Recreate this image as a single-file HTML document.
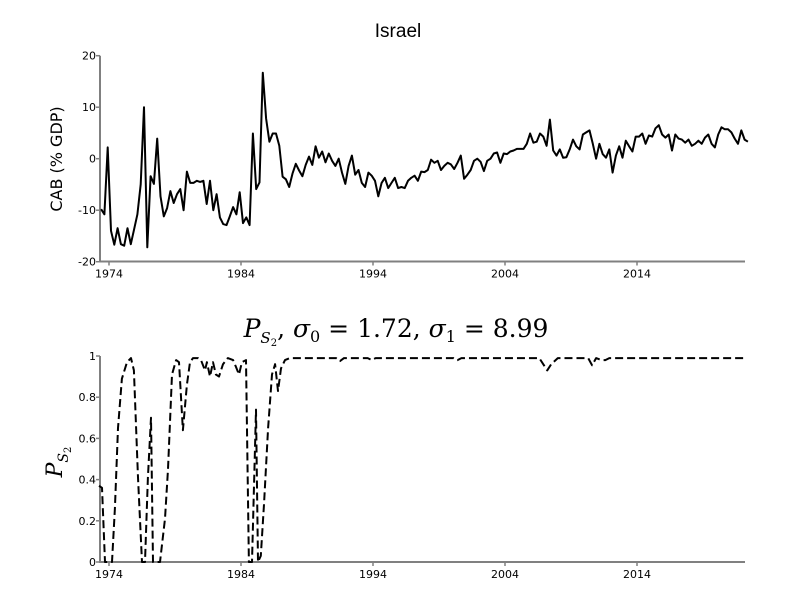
<!DOCTYPE html>
<html><head><meta charset="utf-8">
<style>
html,body{margin:0;padding:0;background:#fff;}
svg{display:block;font-family:"DejaVu Sans","Liberation Sans",sans-serif;}
</style></head>
<body>
<svg id="chart" width="800" height="600" viewBox="0 0 800 600" xmlns="http://www.w3.org/2000/svg">
<rect width="800" height="600" fill="#fff"/>
<text x="398" y="37" font-size="19" text-anchor="middle" font-family="'Liberation Sans',sans-serif">Israel</text>
<text transform="translate(62,159) rotate(-90)" font-size="16" text-anchor="middle">CAB (% GDP)</text>
<text x="396" y="337" font-size="25" text-anchor="middle" font-family="'DejaVu Serif','Liberation Serif',serif"><tspan font-style="italic">P</tspan><tspan font-style="italic" font-size="15" dy="6">S</tspan><tspan font-size="10" dy="3">2</tspan><tspan dy="-9">, </tspan><tspan font-style="italic">σ</tspan><tspan font-size="16" dy="5">0</tspan><tspan dy="-5"> = 1.72, </tspan><tspan font-style="italic">σ</tspan><tspan font-size="16" dy="5">1</tspan><tspan dy="-5"> = 8.99</tspan></text>
<text transform="translate(62,462) rotate(-90)" font-size="22" text-anchor="middle" font-family="'DejaVu Serif','Liberation Serif',serif"><tspan font-style="italic">P</tspan><tspan font-style="italic" font-size="14" dy="6">S</tspan><tspan font-size="10" dy="3">2</tspan></text>
<g id="top"></g>
<g id="bottom"></g>
</svg>
<script>
const cab = [-9.8,-10.8,2.2,-14,-16.7,-13.5,-16.6,-16.9,-13.5,-16.6,-13.7,-10.8,-5,10,-17.2,-3.4,-4.9,3.9,-7.3,-11.2,-9.6,-6.3,-8.6,-6.9,-5.9,-10,-2.5,-4.7,-4.7,-4.3,-4.5,-4.3,-8.8,-4.3,-10,-6.9,-11.4,-12.7,-12.9,-11.2,-9.4,-10.8,-6.5,-12.5,-11.4,-12.9,4.9,-5.9,-4.6,16.7,7.8,3.3,4.9,4.9,2.5,-3.5,-4,-5.5,-2.9,-1,-2.3,-3.4,-1.2,0.4,-1.2,2.4,
0.2,1.4,-0.7,1,-0.4,-1.4,0,-2.7,-4.9,-1.4,0.6,-3.1,-2.2,-4.7,-5.5,-2.7,-3.3,-4.3,-7.3,-4.7,-3.7,-5.7,-4.7,-3.7,-5.7,-5.5,-5.7,-4.3,-3.7,-3.3,-4.3,-2.5,-2.6,-2.2,-0.2,-0.8,-0.4,-2.2,-1.4,-0.8,-1.1,-2,-0.8,0.6,-3.9,-3.1,-2.2,-0.4,0,-0.6,-2.4,-0.4,0,1,1.2,-0.8,1,0.9,1.4,1.6,1.9,1.9,1.9,
2.9,4.9,3.1,3.3,4.9,4.3,2.5,7.6,1.6,0.6,1.8,0.2,0.3,1.8,3.7,2.4,1.8,4.7,5.1,5.5,2.9,0,2.9,0.9,0.2,1.8,-2.7,0.6,2.4,0.2,3.5,2.4,1.4,4.3,4.3,4.9,2.9,4.5,4.3,5.9,6.5,4.7,4.1,4.7,1.6,4.7,3.9,3.7,3.1,3.7,2.5,2.9,3.5,2.9,4.1,4.7,2.9,2.2,4.7,6.1,5.7,5.7,5.1,3.9,2.9,5.5,3.7,3.3];
const cabStart = 1973.4;
const probDates = [1973.24,1973.47,1973.7,1974.23,1974.45,1974.68,1974.98,1975.36,1975.67,1975.89,1976.2,1976.5,1976.73,1976.95,1977.18,1977.33,1977.86,1978.24,1978.47,1978.77,1979.08,1979.3,1979.6,1979.9,1980.14,1980.36,1980.74,1980.97,1981.27,1981.42,1981.65,1981.88,1982.1,1982.33,1982.64,1983.0,1983.4,1983.6,1983.85,1984.07,1984.38,1984.6,1984.83,1985.14,1985.29,1985.5,1985.74,1986.05,1986.35,1986.58,1986.8,1987.03,1987.33,1987.7,1991.2,1991.5,1991.8,1993.6,1993.9,1994.2,2000.1,2000.4,2000.7,2006.6,2007.0,2007.2,2007.5,2008.0,2010.3,2010.6,2010.9,2011.3,2011.6,2011.9,2022.3];
const probValues = [0.37,0.36,0,0,0.26,0.65,0.89,0.97,0.99,0.93,0.41,0,0,0.41,0.70,0,0,0.21,0.45,0.91,0.98,0.97,0.64,0.86,0.97,0.99,0.99,0.98,0.93,0.97,0.90,0.97,0.91,0.90,0.96,0.99,0.98,0.95,0.91,0.97,0.98,0,0,0.74,0,0.03,0.28,0.65,0.91,0.96,0.83,0.94,0.98,0.99,0.99,0.975,0.99,0.99,0.98,0.99,0.99,0.98,0.99,0.99,0.95,0.93,0.96,0.99,0.99,0.955,0.99,0.98,0.98,0.99,0.99];
const xTicks = [1974,1984,1994,2004,2014];
const topYTicks = [-20,-10,0,10,20];
const botYTicks = [0,0.2,0.4,0.6,0.8,1];
const botYLabels = ["0","0.2","0.4","0.6","0.8","1"];

const NS="http://www.w3.org/2000/svg";
const L=100,R=745;
const x=t=>109+(t-1974)*13.2;
const yTop=v=>158.7-v*5.15;
const yBot=p=>562-p*206;
function mk(tag,attrs,parent){const e=document.createElementNS(NS,tag);for(const k in attrs)e.setAttribute(k,attrs[k]);parent.appendChild(e);return e;}

function axes(g,y0,y1,yTicksArr,yLabels,ys,prefix){
  const ya=mk('line',{x1:L,x2:L,y1:y0,y2:y1,stroke:'#808080','stroke-width':2},g);
  
  
  const xa=mk('line',{x1:L-1,x2:R,y1:y1,y2:y1,stroke:'#808080','stroke-width':2},g);
  
  
  yTicksArr.forEach((v,i)=>{
    const yy=ys(v);
    const tk=mk('line',{x1:L-4,x2:L,y1:yy,y2:yy,stroke:'#808080','stroke-width':1.5},g);
    
    
    const tx=mk('text',{x:L-4,y:yy+4,'font-size':11,'text-anchor':'end'},g);
    
    
    tx.textContent=yLabels[i];
  });
  xTicks.forEach(t=>{
    const xx=x(t);
    const tk=mk('line',{x1:xx,x2:xx,y1:y1,y2:y1+4,stroke:'#808080','stroke-width':1.5},g);
    
    
    const tx=mk('text',{x:xx,y:y1+16,'font-size':11,'text-anchor':'middle'},g);
    
    
    tx.textContent=String(t);
  });
}
const gT=document.getElementById('top'), gB=document.getElementById('bottom');
axes(gT,55.7,261.5,topYTicks,topYTicks.map(String),yTop,'top');
axes(gB,356,562,botYTicks,botYLabels,yBot,'bottom');

const dTop=cab.map((v,i)=>(i?'L':'M')+x(cabStart+i*0.25).toFixed(1)+','+yTop(v).toFixed(1)).join('');
const p1=mk('path',{d:dTop,fill:'none',stroke:'#000','stroke-width':2,'stroke-linejoin':'round'},gT);



const dBot=probValues.map((v,i)=>(i?'L':'M')+x(probDates[i]).toFixed(1)+','+yBot(v).toFixed(1)).join('');
const p2=mk('path',{d:dBot,fill:'none',stroke:'#000','stroke-width':2,'stroke-dasharray':'8,4','stroke-linejoin':'round'},gB);


</script>
</body></html>
